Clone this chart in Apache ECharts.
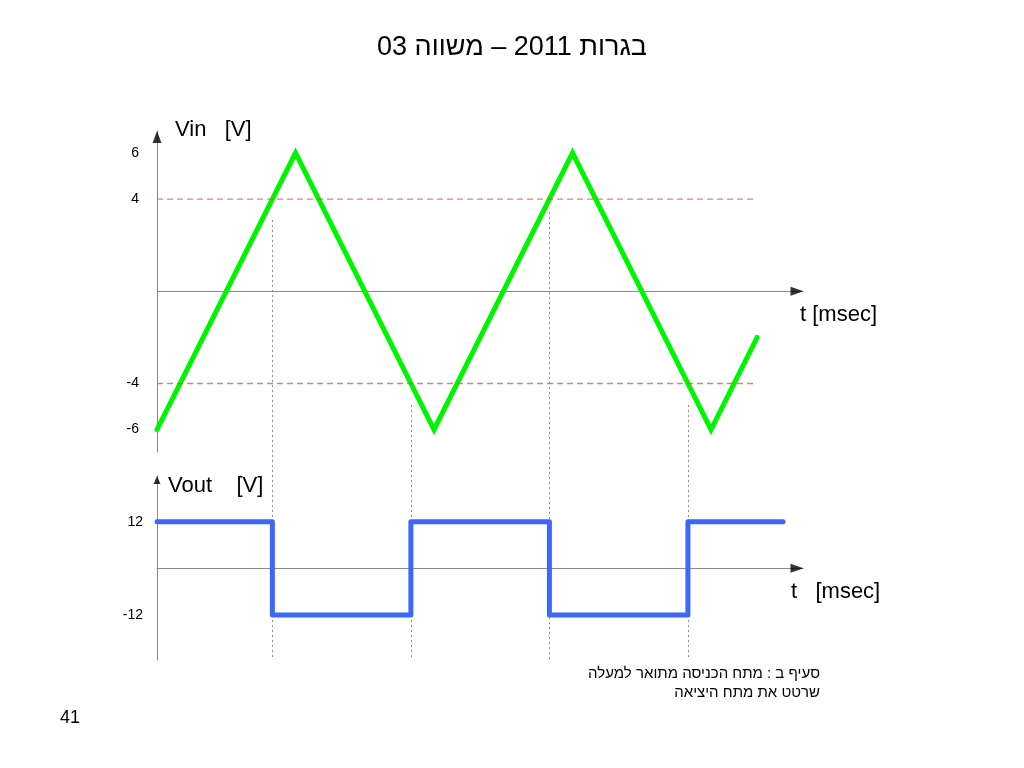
<!DOCTYPE html>
<html>
<head>
<meta charset="utf-8">
<script src="https://cdn.jsdelivr.net/npm/echarts@6/dist/echarts.min.js"></script>
<style>
html,body{margin:0;padding:0;background:#fff;}
#c{width:1024px;height:768px;}
</style>
</head>
<body>
<div id="c"></div>
<script>
// ---- data ----
const tIn = [0, 1, 2, 3, 4, 4.333];
const vIn = [-6, 6, -6, 6, -6, -2];
const tOut = [0, 0.833, 0.833, 1.833, 1.833, 2.833, 2.833, 3.833, 3.833, 4.52];
const vOut = [12, 12, -12, -12, 12, 12, -12, -12, 12, 12];
const switchT = [0.833, 1.833, 2.833, 3.833];
const guideStart = [3.09, -4.94, 3.43, -4.94];
const thresholds = [4, -4];
const thresholdEnd = 4.32;
const inTicks = [6, 4, -4, -6];
const outTicks = [12, -12];

// axis ranges
const X_MAX = 4.664;
const IN_MIN = -6.97, IN_MAX = 6.95;
const OUT_MIN = -23.6, OUT_MAX = 23.75;
const GUIDE_MIN = -16.0;

const FONT = 'Liberation Sans, Arial, DejaVu Sans, sans-serif';
const AX = '#8a8a8a';

const chart = echarts.init(document.getElementById('c'), null, {renderer: 'canvas'});

const zip = (a, b) => a.map((v, i) => [v, b[i]]);

const thresholdData = [];
thresholds.forEach((v, i) => {
  if (i > 0) thresholdData.push(['-', '-']);
  thresholdData.push([0, v], [thresholdEnd, v]);
});

const option = {
  backgroundColor: '#fff',
  animation: false,
  grid: [
    {left: 157, width: 646, top: 131, height: 321},
    {left: 157, width: 646, top: 476, height: 184},
    {left: 157, width: 646, top: 131, height: 529}
  ],
  xAxis: [0, 1, 2].map(i => ({
    type: 'value', gridIndex: i, min: 0, max: X_MAX,
    axisLine: {show: i < 2, lineStyle: {color: AX, width: 1}},
    axisTick: {show: false}, axisLabel: {show: false}, splitLine: {show: false}
  })),
  yAxis: [
    {type: 'value', gridIndex: 0, min: IN_MIN, max: IN_MAX,
     axisLine: {show: true, lineStyle: {color: AX, width: 1}},
     axisTick: {show: false}, splitLine: {show: false},
     axisLabel: {customValues: inTicks, color: '#000', fontSize: 14, fontFamily: FONT, margin: 18}},
    {type: 'value', gridIndex: 1, min: OUT_MIN, max: OUT_MAX,
     axisLine: {show: true, lineStyle: {color: AX, width: 1}},
     axisTick: {show: false}, splitLine: {show: false},
     axisLabel: {customValues: outTicks, color: '#000', fontSize: 14, fontFamily: FONT, margin: 14}},
    {type: 'value', gridIndex: 2, min: GUIDE_MIN, max: IN_MAX, show: false,
     axisLine: {show: false}, splitLine: {show: false}}
  ],
  series: [
    {
      type: 'lines', coordinateSystem: 'cartesian2d', xAxisIndex: 2, yAxisIndex: 2,
      polyline: false, silent: true, z: 1,
      lineStyle: {color: '#8c8c8c', width: 1, type: [2, 3], opacity: 1},
      data: switchT.map((t, i) => ({coords: [[t, guideStart[i]], [t, GUIDE_MIN]]}))
    },
    {
      type: 'line', xAxisIndex: 0, yAxisIndex: 0, symbol: 'none', z: 4, silent: true,
      connectNulls: false,
      data: thresholdData,
      itemStyle: {color: '#e05050'},
      lineStyle: {color: '#e05050', width: 1.3, type: [6, 4], opacity: 0.75}
    },
    {
      type: 'line', xAxisIndex: 0, yAxisIndex: 0, symbol: 'none', z: 3,
      data: zip(tIn, vIn),
      lineStyle: {color: '#00f500', width: 5, cap: 'round', join: 'miter'}
    },
    {
      type: 'line', xAxisIndex: 1, yAxisIndex: 1, symbol: 'none', z: 3,
      data: zip(tOut, vOut),
      lineStyle: {color: '#3b68fa', width: 5, cap: 'round', join: 'round'}
    },
    // arrow heads at axis ends
    {type: 'scatter', xAxisIndex: 0, yAxisIndex: 0, silent: true, z: 5, clip: false,
     itemStyle: {color: '#000'},
     data: [
       {value: [X_MAX, 0], symbol: 'triangle', symbolSize: [9, 13], symbolRotate: -90, symbolOffset: [-6, 0]},
       {value: [0, IN_MAX], symbol: 'triangle', symbolSize: [9, 12], symbolRotate: 0, symbolOffset: [0, 6]}
     ]},
    {type: 'scatter', xAxisIndex: 1, yAxisIndex: 1, silent: true, z: 5, clip: false,
     itemStyle: {color: '#000'},
     data: [
       {value: [X_MAX, 0], symbol: 'triangle', symbolSize: [9, 13], symbolRotate: -90, symbolOffset: [-6, 0]},
       {value: [0, OUT_MAX], symbol: 'triangle', symbolSize: [7, 8], symbolRotate: 0, symbolOffset: [0, 4]}
     ]}
  ],
  graphic: [
    {type: 'text', x: 512, y: 48, style: {text: '\u202Bבגרות 2011 – משווה 03\u202C', fill: '#000', font: '27px ' + FONT, textAlign: 'center', textVerticalAlign: 'middle'}},
    {type: 'text', x: 175, y: 130, style: {text: 'Vin   [V]', fill: '#000', font: '22px ' + FONT, textAlign: 'left', textVerticalAlign: 'middle'}},
    {type: 'text', x: 800, y: 315, style: {text: 't [msec]', fill: '#000', font: '22px ' + FONT, textAlign: 'left', textVerticalAlign: 'middle'}},
    {type: 'text', x: 168, y: 486, style: {text: 'Vout    [V]', fill: '#000', font: '22px ' + FONT, textAlign: 'left', textVerticalAlign: 'middle'}},
    {type: 'text', x: 791, y: 592, style: {text: 't   [msec]', fill: '#000', font: '22px ' + FONT, textAlign: 'left', textVerticalAlign: 'middle'}},
    {type: 'text', x: 820, y: 674, style: {text: '\u202Bסעיף ב : מתח הכניסה מתואר למעלה\u202C', fill: '#000', font: '15px ' + FONT, textAlign: 'right', textVerticalAlign: 'middle'}},
    {type: 'text', x: 820, y: 693, style: {text: '\u202Bשרטט את מתח היציאה\u202C', fill: '#000', font: '15px ' + FONT, textAlign: 'right', textVerticalAlign: 'middle'}},
    {type: 'text', x: 70, y: 718, style: {text: '41', fill: '#000', font: '18px ' + FONT, textAlign: 'center', textVerticalAlign: 'middle'}}
  ]
};
chart.setOption(option);
</script>
</body>
</html>
